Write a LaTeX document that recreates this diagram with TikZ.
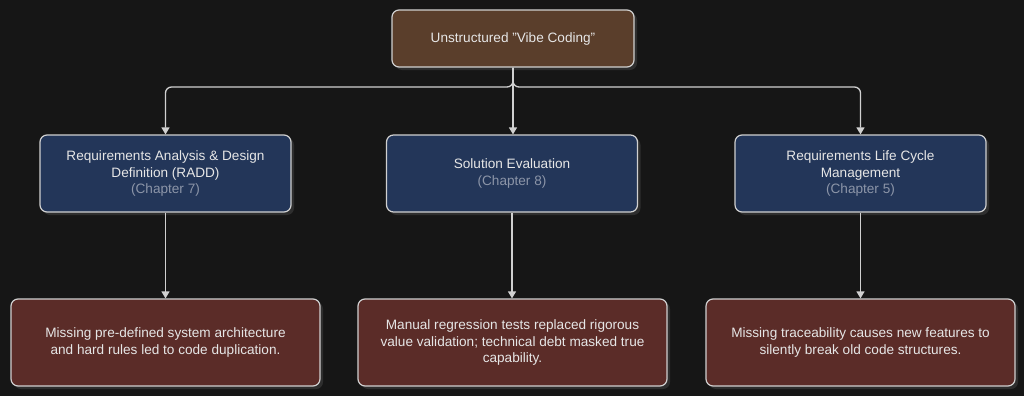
\documentclass[tikz,border=0pt]{standalone}
\usepackage{fontspec}
\setmainfont{Liberation Sans}
\usetikzlibrary{arrows.meta,shadows}
\definecolor{bg}{HTML}{161616}
\definecolor{topfill}{HTML}{5A3E2B}
\definecolor{midfill}{HTML}{233659}
\definecolor{botfill}{HTML}{5B2C28}
\definecolor{edge}{HTML}{D0D0D0}
\definecolor{txt}{HTML}{E6E6E6}
\definecolor{chap}{HTML}{8C95A8}
\definecolor{shad}{HTML}{2E2E2E}
\begin{document}
\begin{tikzpicture}[x=1pt,y=-1pt,
  box/.style={draw=edge,line width=1.2pt,rounded corners=7pt,align=center,text=txt,
    font=\fontsize{13.6}{16.2}\selectfont,
    drop shadow={shadow xshift=3pt,shadow yshift=-3pt,fill=shad,opacity=1}},
  topbox/.style={box,fill=topfill,minimum width=242pt,minimum height=57pt},
  midbox/.style={box,fill=midfill,minimum width=251pt,minimum height=77pt},
  botbox/.style={box,fill=botfill,minimum width=309pt,minimum height=87pt},
  conn/.style={draw=edge,line width=1.3pt,-{Triangle[length=7pt,width=8pt]}},
  ch/.style={text=chap}]
\fill[bg] (0,0) rectangle (1024,396);
\useasboundingbox (0,0) rectangle (1024,396);
\node[topbox] (top) at (513,38.5) {Unstructured "Vibe Coding"};
\node[midbox] (m1) at (165.5,173.5) {Requirements Analysis \& Design\\Definition (RADD)\\\textcolor{chap}{(Chapter 7)}};
\node[midbox] (m2) at (512,173.5) {Solution Evaluation\\\textcolor{chap}{(Chapter 8)}};
\node[midbox] (m3) at (860.5,173.5) {Requirements Life Cycle\\Management\\\textcolor{chap}{(Chapter 5)}};
\node[botbox] (b1) at (165.5,342.5) {Missing pre-defined system architecture\\and hard rules led to code duplication.};
\node[botbox] (b2) at (512.5,342.5) {Manual regression tests replaced rigorous\\value validation; technical debt masked true\\capability.};
\node[botbox] (b3) at (860.5,342.5) {Missing traceability causes new features to\\silently break old code structures.};
\coordinate (j) at (513,87);
\draw[conn,rounded corners=6pt] (top.south) -- (j) -| (m1.north);
\draw[conn,rounded corners=6pt] (top.south) -- (j) -| (m3.north);
\draw[conn] (top.south) -- (top.south |- m2.north);
\draw[conn] (m1.south) -- (b1.north);
\draw[conn] (m2.south) -- (m2.south |- b2.north);
\draw[conn] (m3.south) -- (b3.north);
\end{tikzpicture}
\end{document}
